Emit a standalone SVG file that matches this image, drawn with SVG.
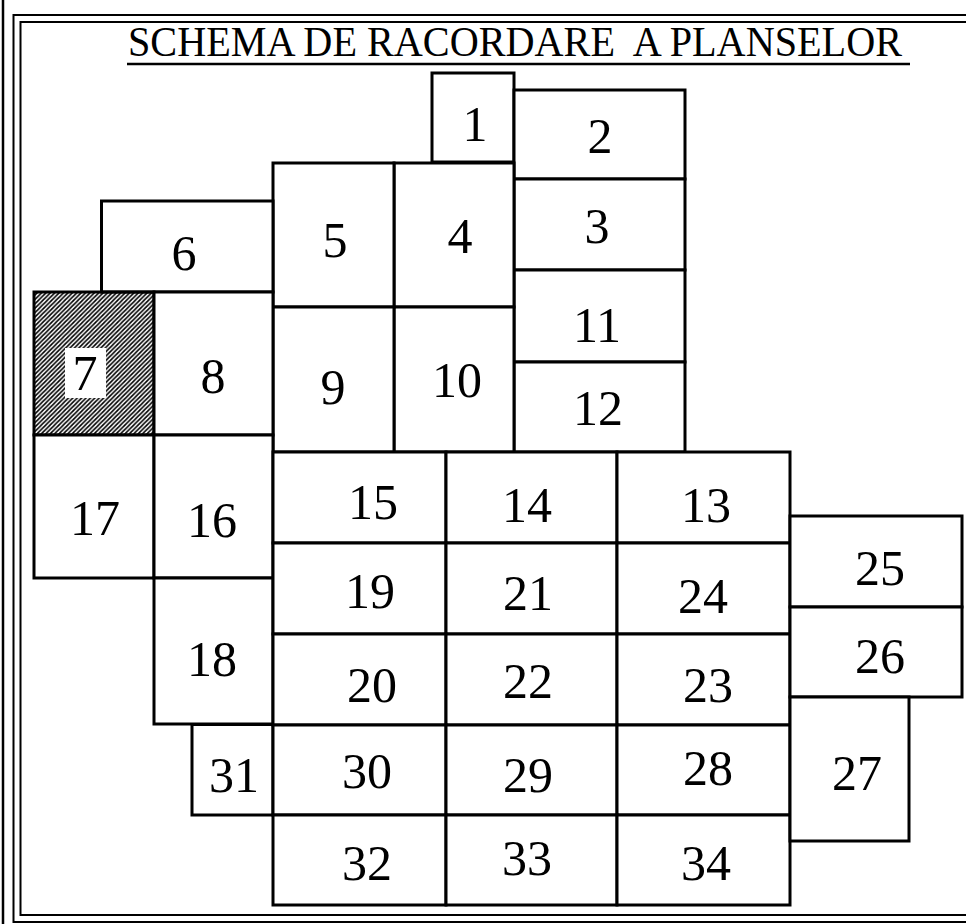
<svg xmlns="http://www.w3.org/2000/svg" width="966" height="924" viewBox="0 0 966 924">
<style>
.c{fill:#fff;stroke:#000;stroke-width:3;stroke-linejoin:miter}
.t{font-size:50px;text-anchor:middle;fill:#000}
.f{fill:none;stroke:#000;stroke-width:2}
</style>
<defs>
<pattern id="hatch" patternUnits="userSpaceOnUse" width="4.4" height="4.4">
<path d="M-1.1,1.1 L1.1,-1.1 M0,4.4 L4.4,0 M3.3,5.5 L5.5,3.3" stroke="#000" stroke-width="1.6"/>
</pattern>
</defs>
<rect width="966" height="924" fill="#fff"/>
<g id="frame">
<line x1="3" y1="0" x2="3" y2="924" stroke="#000" stroke-width="2.5"/>
<path class="f" d="M970,15 H13.5 V922 H970"/>
<path class="f" d="M970,22 H20.5 V915 H970"/>
</g>
<g id="title">
<text x="128" y="55.5" font-family="Liberation Serif, Times New Roman, serif" font-size="42" textLength="774" lengthAdjust="spacingAndGlyphs" xml:space="preserve">SCHEMA DE RACORDARE  A PLANSELOR</text>
<line x1="127" y1="64" x2="910" y2="64" stroke="#000" stroke-width="2.5"/>
</g>
<g id="connectors"></g>
<g id="nodes" font-family="Liberation Serif, Times New Roman, serif">
<g id="n1"><rect class="c" x="432" y="73" width="82" height="89"/><text class="t" x="475" y="141">1</text></g>
<g id="n2"><rect class="c" x="514" y="90" width="171" height="89"/><text class="t" x="600" y="153">2</text></g>
<g id="n3"><rect class="c" x="514" y="179" width="171" height="91"/><text class="t" x="597" y="243">3</text></g>
<g id="n11"><rect class="c" x="514" y="270" width="171" height="92"/><text class="t" x="597" y="342">11</text></g>
<g id="n12"><rect class="c" x="514" y="362" width="171" height="90"/><text class="t" x="598" y="425">12</text></g>
<g id="n4"><rect class="c" x="394" y="163" width="120" height="144"/><text class="t" x="460" y="253">4</text></g>
<g id="n10"><rect class="c" x="394" y="307" width="120" height="145"/><text class="t" x="457" y="397">10</text></g>
<g id="n5"><rect class="c" x="273" y="163" width="121" height="144"/><text class="t" x="335" y="257">5</text></g>
<g id="n9"><rect class="c" x="273" y="307" width="121" height="145"/><text class="t" x="333" y="404">9</text></g>
<g id="n6"><rect class="c" x="101.5" y="201" width="171.5" height="91"/><text class="t" x="184" y="270">6</text></g>
<g id="n7"><rect x="34" y="292" width="120" height="143" fill="url(#hatch)" stroke="#000" stroke-width="3"/><rect x="65" y="348" width="41" height="50" fill="#fff"/><text class="t" x="85" y="390">7</text></g>
<g id="n8"><rect class="c" x="154" y="292" width="119" height="143"/><text class="t" x="213" y="393">8</text></g>
<g id="n17"><rect class="c" x="34" y="435" width="120" height="143"/><text class="t" x="95" y="535">17</text></g>
<g id="n16"><rect class="c" x="154" y="435" width="119" height="143"/><text class="t" x="212" y="537">16</text></g>
<g id="n18"><rect class="c" x="154" y="578" width="119" height="146"/><text class="t" x="212" y="676">18</text></g>
<g id="n31"><rect class="c" x="192" y="724.5" width="81" height="90.5"/><text class="t" x="234" y="792">31</text></g>
<g id="n15"><rect class="c" x="273" y="452" width="173" height="91"/><text class="t" x="373" y="519">15</text></g>
<g id="n14"><rect class="c" x="446" y="452" width="171" height="91"/><text class="t" x="527" y="522">14</text></g>
<g id="n13"><rect class="c" x="617" y="452" width="173" height="91"/><text class="t" x="706" y="522">13</text></g>
<g id="n19"><rect class="c" x="273" y="543" width="173" height="91"/><text class="t" x="370" y="608">19</text></g>
<g id="n21"><rect class="c" x="446" y="543" width="171" height="91"/><text class="t" x="528" y="610">21</text></g>
<g id="n24"><rect class="c" x="617" y="543" width="173" height="91"/><text class="t" x="703" y="613">24</text></g>
<g id="n20"><rect class="c" x="273" y="634" width="173" height="91"/><text class="t" x="372" y="702">20</text></g>
<g id="n22"><rect class="c" x="446" y="634" width="171" height="91"/><text class="t" x="528" y="698">22</text></g>
<g id="n23"><rect class="c" x="617" y="634" width="173" height="91"/><text class="t" x="708" y="702">23</text></g>
<g id="n30"><rect class="c" x="273" y="725" width="173" height="90"/><text class="t" x="367" y="788">30</text></g>
<g id="n29"><rect class="c" x="446" y="725" width="171" height="90"/><text class="t" x="528" y="792">29</text></g>
<g id="n28"><rect class="c" x="617" y="725" width="173" height="90"/><text class="t" x="708" y="785">28</text></g>
<g id="n32"><rect class="c" x="273" y="815" width="173" height="90"/><text class="t" x="367" y="880">32</text></g>
<g id="n33"><rect class="c" x="446" y="815" width="171" height="90"/><text class="t" x="527" y="875">33</text></g>
<g id="n34"><rect class="c" x="617" y="815" width="173" height="90"/><text class="t" x="706" y="880">34</text></g>
<g id="n25"><rect class="c" x="790" y="516" width="172" height="91"/><text class="t" x="880" y="585">25</text></g>
<g id="n26"><rect class="c" x="790" y="607" width="172" height="90"/><text class="t" x="880" y="673">26</text></g>
<g id="n27"><rect class="c" x="790" y="697" width="119" height="144"/><text class="t" x="857" y="790">27</text></g>
</g>
</svg>
